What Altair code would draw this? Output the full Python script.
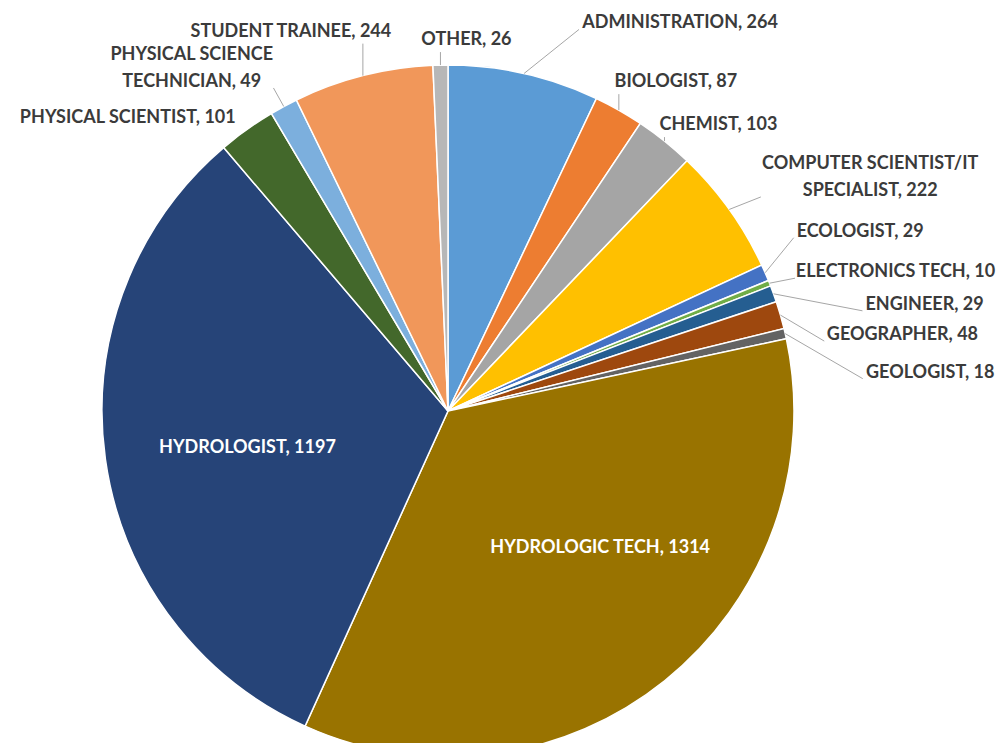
import math
import altair as alt
import pandas as pd

# ---- data ----
categories = [
    "ADMINISTRATION", "BIOLOGIST", "CHEMIST", "COMPUTER SCIENTIST/IT SPECIALIST",
    "ECOLOGIST", "ELECTRONICS TECH", "ENGINEER", "GEOGRAPHER", "GEOLOGIST",
    "HYDROLOGIC TECH", "HYDROLOGIST", "PHYSICAL SCIENTIST",
    "PHYSICAL SCIENCE TECHNICIAN", "STUDENT TRAINEE", "OTHER",
]
counts = [264, 87, 103, 222, 29, 10, 29, 48, 18, 1314, 1197, 101, 49, 244, 26]
label_names = [
    "ADMINISTRATION", "BIOLOGIST", "CHEMIST", "COMPUTER SCIENTIST/IT\nSPECIALIST",
    "ECOLOGIST", "ELECTRONICS TECH", "ENGINEER", "GEOGRAPHER", "GEOLOGIST",
    "HYDROLOGIC TECH", "HYDROLOGIST", "PHYSICAL SCIENTIST",
    "PHYSICAL SCIENCE\nTECHNICIAN", "STUDENT TRAINEE", "OTHER",
]

# ---- style ----
colors = ["#5B9BD5", "#ED7D31", "#A5A5A5", "#FFC000", "#4472C4", "#70AD47",
          "#255E91", "#9E480E", "#636363", "#997300", "#264478", "#43682B",
          "#7CAFDD", "#F1975A", "#B7B7B7"]
inside = {"HYDROLOGIC TECH", "HYDROLOGIST"}
no_leader = {"PHYSICAL SCIENTIST", "HYDROLOGIC TECH", "HYDROLOGIST"}
# label nudges (px) relative to the slice's mid-angle point on the rim
# (or on 0.6*R for labels placed inside the pie)
label_nudge = {
    "ADMINISTRATION": (156, -50), "BIOLOGIST": (57, -28), "CHEMIST": (54, -16),
    "COMPUTER SCIENTIST/IT SPECIALIST": (141, -32), "ECOLOGIST": (95, -41),
    "ELECTRONICS TECH": (126, -11), "ENGINEER": (151, 11), "GEOGRAPHER": (122, 20),
    "GEOLOGIST": (145, 39), "HYDROLOGIC TECH": (22, -25), "HYDROLOGIST": (5, 8),
    "PHYSICAL SCIENTIST": (-119, -12), "PHYSICAL SCIENCE TECHNICIAN": (-92, -38),
    "STUDENT TRAINEE": (-72, -44), "OTHER": (26, -25),
}
W, H = 990, 735
CX, CY, R = 440, 403, 346
FONT = "Lato"
FS = 18
LH = 27

char_w = {"I": .27, ",": .26, " ": .23, "/": .39, "M": .87, "W": .89, "O": .68,
          "C": .54, "D": .63, "G": .64, "H": .63, "N": .66, "U": .65, "E": .49,
          "L": .42, "T": .5, "S": .47, "R": .56, "P": .53, "F": .46, "Y": .52,
          "A": .61, "K": .54, "B": .56}


def text_width(s):
    return sum(char_w.get(c, .507) for c in s) * 20.5


total = sum(counts)
rows, leaders = [], []
cum = 0
for i, (cat, val, name) in enumerate(zip(categories, counts, label_names)):
    mid = (cum + val / 2) / total * 2 * math.pi
    cum += val
    ax = CX + R * math.sin(mid)
    ay = CY - R * math.cos(mid)
    base_r = 0.6 * R if cat in inside else R
    bx = CX + base_r * math.sin(mid)
    by = CY - base_r * math.cos(mid)
    dx, dy = label_nudge[cat]
    lx, ly = bx + dx, by + dy
    text = f"{name}, {val}"
    lines = text.split("\n")
    n = len(lines)
    yc0 = ly - (n - 1) / 2 * LH
    ycl = ly + (n - 1) / 2 * LH
    # vega places the first line at y, so shift multi-line blocks up
    rows.append({"category": cat, "count": val, "idx": i, "label": text,
                 "lx": lx, "ly": yc0, "inside": cat in inside})
    if cat in no_leader:
        continue
    w = max(text_width(s) for s in lines)
    left, right = lx - w / 2, lx + w / 2
    top, bottom = yc0 - 10, ycl + 10
    if left <= ax <= right:
        ex = ax
        ey = bottom + 2 if ay > bottom else top - 2
    else:
        ex = left - 3 if ax < left else right + 3
        ey = min(max(ay, yc0 + 6), ycl + 6)
    leaders.append({"category": cat, "x": ax, "y": ay, "x2": ex, "y2": ey})

df = pd.DataFrame(rows)
ldf = pd.DataFrame(leaders)

pie = alt.Chart(df).mark_arc(outerRadius=R, stroke="white", strokeWidth=1.5).encode(
    theta=alt.Theta("count:Q", stack=True),
    color=alt.Color("category:N", scale=alt.Scale(domain=categories, range=colors), legend=None),
    order=alt.Order("idx:Q"),
    x=alt.value(CX),
    y=alt.value(CY),
)

lead = alt.Chart(ldf).mark_rule(color="#A6A6A6", strokeWidth=1).encode(
    x=alt.X("x:Q", scale=None, axis=None),
    y=alt.Y("y:Q", scale=None, axis=None),
    x2="x2:Q",
    y2="y2:Q",
)

txt_out = alt.Chart(df).transform_filter("!datum.inside").mark_text(
    font=FONT, fontWeight="bold", fontSize=FS, color="#3B3B3B",
    align="center", baseline="middle", lineBreak="\n", lineHeight=LH,
).encode(
    x=alt.X("lx:Q", scale=None, axis=None),
    y=alt.Y("ly:Q", scale=None, axis=None),
    text="label:N",
)

txt_in = alt.Chart(df).transform_filter("datum.inside").mark_text(
    font=FONT, fontWeight="bold", fontSize=FS, color="white",
    align="center", baseline="middle",
).encode(
    x=alt.X("lx:Q", scale=None, axis=None),
    y=alt.Y("ly:Q", scale=None, axis=None),
    text="label:N",
)

chart = alt.layer(pie, lead, txt_out, txt_in).properties(
    width=W, height=H, padding=0, autosize=alt.AutoSizeParams(type="none"),
).configure_view(stroke=None)

chart.save("out.html", embed_options={"renderer": "svg", "actions": False})
